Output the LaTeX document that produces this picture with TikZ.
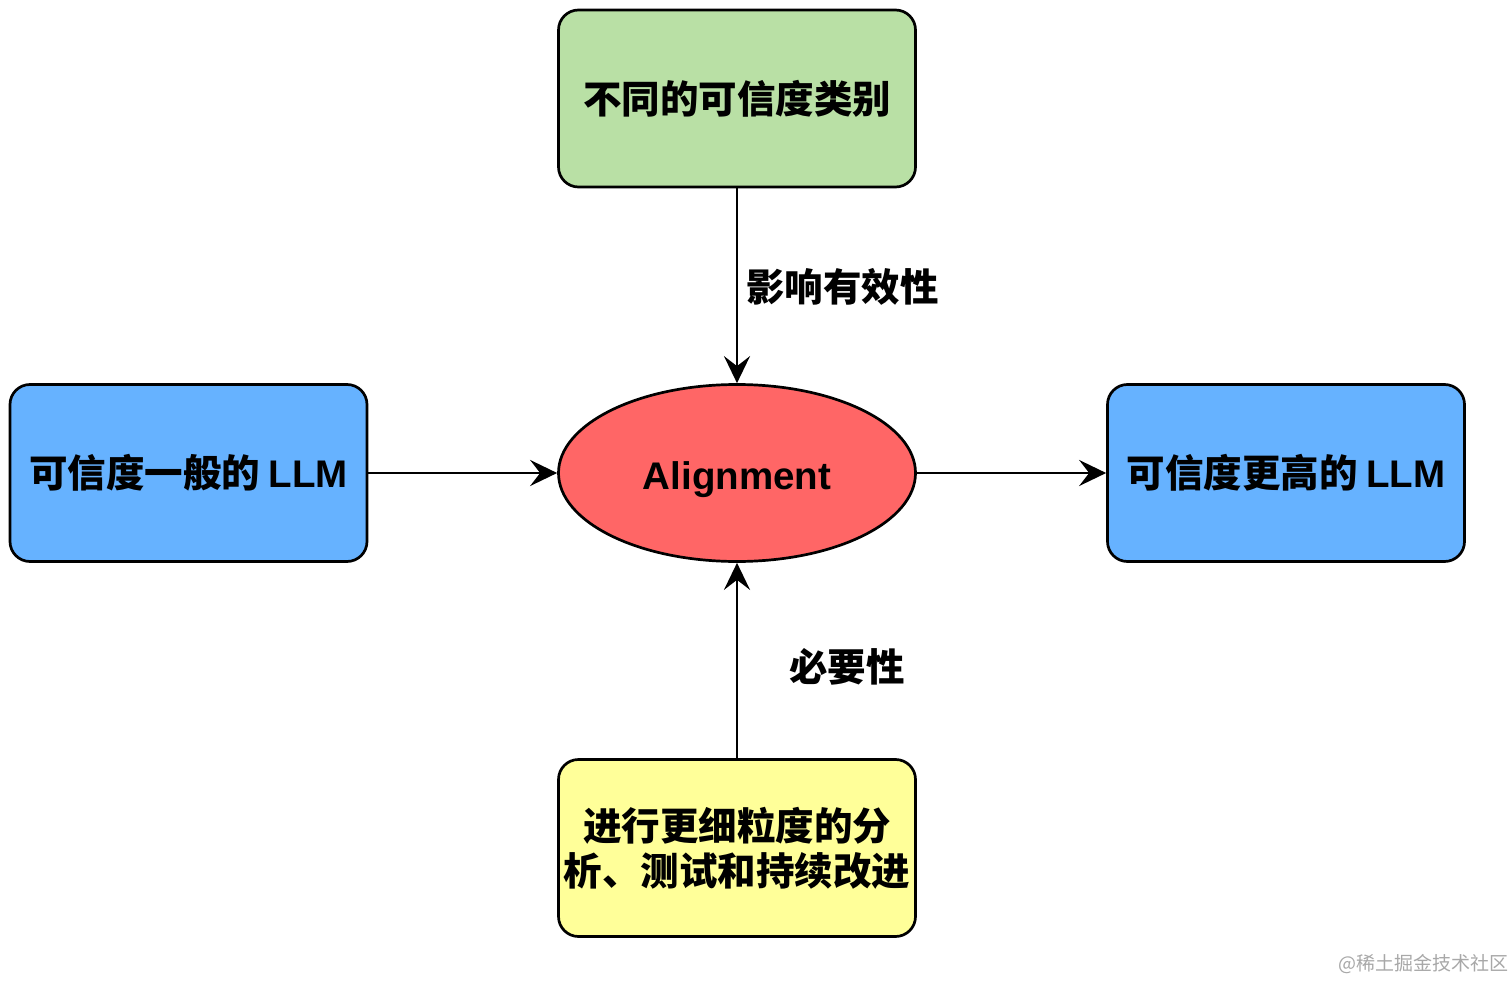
\documentclass[tikz,border=0pt]{standalone}
\usepackage{fontspec}
\newfontfamily\cjk{Noto Sans CJK SC}
\newfontfamily\lat{Liberation Sans}
\usetikzlibrary{arrows.meta,shapes.geometric}
\definecolor{boxgreen}{HTML}{B9E0A5}
\definecolor{boxblue}{HTML}{66B2FF}
\definecolor{boxred}{HTML}{FF6666}
\definecolor{boxyellow}{HTML}{FFFF99}
\definecolor{markgray}{HTML}{A8A8A8}
\tikzset{
  bigtext/.style={font=\cjk\bfseries\fontsize{38.5}{45}\selectfont},
  stagebox/.style={bigtext, draw=black, line width=2.7pt, rounded corners=20pt,
    minimum width=357pt, minimum height=177pt, inner sep=0pt, align=center},
  hub/.style={bigtext, ellipse, draw=black, line width=2.7pt, fill=boxred,
    minimum width=357pt, minimum height=177pt, inner sep=0pt,
    text height=38pt, text depth=6pt},
  conn/.style={line width=2.8pt, -{Stealth[length=27pt,width=26pt,inset=10pt]}},
  edgelabel/.style={bigtext, inner sep=0pt}
}
\begin{document}
\begin{tikzpicture}[x=1pt,y=-1pt]
  \useasboundingbox (0,0) rectangle (1509,981);
  \fill[white] (0,0) rectangle (1509,981);

  \node[stagebox, fill=boxgreen]  (kinds)  at (737,98.5) {不同的可信度类别};
  \node[stagebox, fill=boxblue]   (plain)  at (188.5,473) {可信度一般的 {\lat\bfseries LLM}};
  \node[stagebox, fill=boxblue]   (better) at (1286,473) {可信度更高的 {\lat\bfseries LLM}};
  \node[stagebox, fill=boxyellow] (refine) at (737,848) {进行更细粒度的分\\析、测试和持续改进};
  \node[hub] (align) at (737,473) {{\lat\bfseries Alignment}};

  \draw[conn] (kinds.south) -- (align.north);
  \draw[conn] (plain.east) -- (align.west);
  \draw[conn] (align.east) -- (better.west);
  \draw[conn] (refine.north) -- (align.south);

  \node[edgelabel, anchor=west] (effect) at (746,287) {影响有效性};
  \node[edgelabel] (need) at (847,667) {必要性};

  \node[font=\cjk\fontsize{19}{22}\selectfont, text=markgray, inner sep=0pt]
    (mark) at (1423,964) {@稀土掘金技术社区};
\end{tikzpicture}
\end{document}
